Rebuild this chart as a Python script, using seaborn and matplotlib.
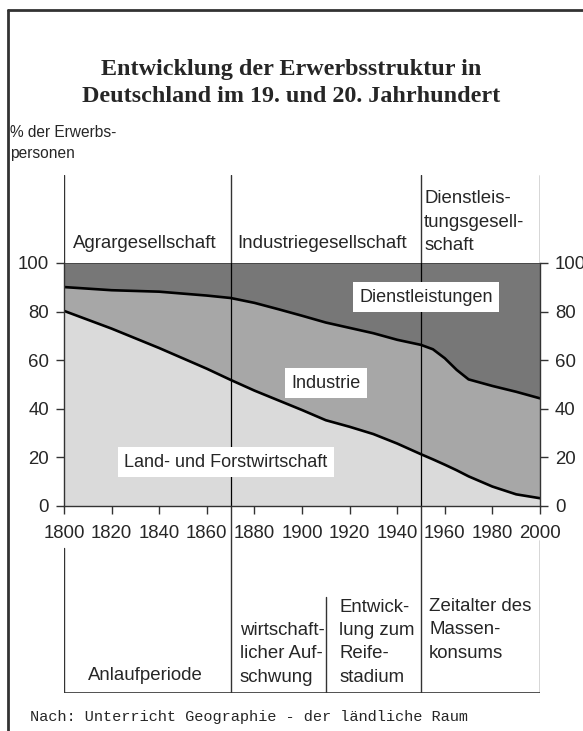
import numpy as np
import pandas as pd
import seaborn as sns
import matplotlib.pyplot as plt
from matplotlib.lines import Line2D

# values
years = [1800, 1820, 1840, 1860, 1870, 1880, 1890, 1900, 1910, 1920, 1930, 1940,
         1950, 1955, 1960, 1965, 1970, 1980, 1990, 2000]
agrar = [80.3, 73.0, 65.0, 56.5, 51.9, 47.5, 43.5, 39.5, 35.3, 32.6, 29.6, 25.7,
         21.3, 19.2, 17.0, 14.7, 12.2, 8.0, 4.8, 3.2]
agrar_ind = [90.1, 88.8, 88.2, 86.6, 85.6, 83.6, 81.0, 78.3, 75.5, 73.3, 71.1, 68.4,
             66.3, 64.5, 60.8, 56.0, 52.1, 49.4, 47.0, 44.3]
total = [100] * len(years)

sectors = ["Land- und Forstwirtschaft", "Industrie", "Dienstleistungen"]
sector_pos = [(1868, 18), (1910, 50.5), (1952, 86)]
societies = ["Agrargesellschaft", "Industriegesellschaft", "Dienstleis-\ntungsgesell-\nschaft"]
phases = ["Anlaufperiode", "wirtschaft-\nlicher Auf-\nschwung", "Entwick-\nlung zum\nReife-\nstadium",
          "Zeitalter des\nMassen-\nkonsums"]

df = pd.DataFrame({"Jahr": years, "agrar": agrar, "ind": agrar_ind, "total": total})

sns.set_style("white")
plt.rcParams["font.family"] = ["Liberation Sans", "DejaVu Sans"]

fig = plt.figure(figsize=(5.83, 7.31), dpi=100)
H = 731.0
def fy(px):
    return 1 - px / H

x0, x1 = 64 / 583, 540 / 583
ax = fig.add_axes([x0, fy(506), x1 - x0, (506 - 263) / H])
hdr = fig.add_axes([x0, fy(263), x1 - x0, (263 - 175) / H], sharex=ax)
bot = fig.add_axes([x0, fy(693), x1 - x0, (693 - 506) / H], sharex=ax)

light, mid, dark = "#dadada", "#a7a7a7", "#777777"
ax.fill_between(df["Jahr"], 0, df["agrar"], color=light, lw=0)
ax.fill_between(df["Jahr"], df["agrar"], df["ind"], color=mid, lw=0)
ax.fill_between(df["Jahr"], df["ind"], df["total"], color=dark, lw=0)
sns.lineplot(data=df, x="Jahr", y="agrar", ax=ax, color="black", lw=1.9)
sns.lineplot(data=df, x="Jahr", y="ind", ax=ax, color="black", lw=1.9)
ax.axhline(100, color="#333333", lw=1.2)
for yr in [1870, 1950]:
    ax.axvline(yr, color="black", lw=0.9)

ax.set_xlim(1800, 2000)
ax.set_ylim(0, 100)
ax.set_xlabel("")
ax.set_ylabel("")
ax.set_xticks(range(1800, 2001, 20))
ax.set_xticks(range(1800, 2001, 10), minor=True)
ax.set_yticks(range(0, 101, 20))
ax.set_yticks(range(0, 101, 10), minor=True)
ax.tick_params(axis="both", which="both", direction="out", length=5.8, width=1, color="#333333",
               labelsize=13.4)
ax.tick_params(axis="x", which="major", pad=8)
ax.tick_params(axis="y", left=True, right=True, labelleft=True, labelright=True, pad=5)
ax.tick_params(axis="x", bottom=True)
ax.spines["top"].set_visible(False)
for s in ["left", "right", "bottom"]:
    ax.spines[s].set_color("#333333")
    ax.spines[s].set_linewidth(1)

for name, (px, py) in zip(sectors, sector_pos):
    ax.text(px, py, name, ha="center", va="center", fontsize=13,
            bbox=dict(boxstyle="square,pad=0.35", fc="white", ec="none"))

# header with societies
hdr.set_ylim(0, 1)
hdr.axis("off")
for yr in [1800, 1870, 1950, 2000]:
    hdr.axvline(yr, color="#333333", lw=1)
hdr.text(1834, 0.22, societies[0], ha="center", va="center", fontsize=13.4)
hdr.text(1872.7, 0.22, societies[1], ha="left", va="center", fontsize=13.4)
hdr.text(1951.3, 0.10, societies[2], ha="left", va="bottom", fontsize=13.4, linespacing=1.5)

# bottom with growth phases
bot.set_ylim(0, 1)
bot.axis("off")
bot.axvline(1800, 0, (693 - 548) / 187, color="#333333", lw=1)
bot.axvline(1870, 0, 1, color="#333333", lw=1)
bot.axvline(1910, 0, (693 - 597) / 187, color="#333333", lw=1)
bot.axvline(1950, 0, 1, color="#333333", lw=1)
bot.axvline(2000, 0, (693 - 540) / 187, color="#333333", lw=1)
bot.axhline(0, 0, 1, color="#333333", lw=1.2)
bot.text(1834, (693 - 676) / 187, phases[0], ha="center", va="center", fontsize=13.4)
bot.text(1873.8, (693 - 686) / 187, phases[1], ha="left", va="bottom", fontsize=13.4, linespacing=1.5)
bot.text(1915.7, (693 - 686) / 187, phases[2], ha="left", va="bottom", fontsize=13.4, linespacing=1.5)
bot.text(1953.4, (693 - 662) / 187, phases[3], ha="left", va="bottom", fontsize=13.4, linespacing=1.5)

fig.text(0.5, fy(83), "Entwicklung der Erwerbsstruktur in\nDeutschland im 19. und 20. Jahrhundert",
         ha="center", va="center", fontsize=17.4, fontweight="bold", family="Liberation Serif",
         linespacing=1.38)
fig.text(10 / 583, fy(143), "% der Erwerbs-\npersonen", ha="left", va="center", fontsize=11.2,
         linespacing=1.55)
fig.text(30 / 583, fy(717), "Nach: Unterricht Geographie - der ländliche Raum", ha="left",
         va="center", fontsize=11, family="Liberation Mono")

# page frame
fig.add_artist(Line2D([8 / 583, 8 / 583], [0, fy(10)], color="#333333", lw=2))
fig.add_artist(Line2D([8 / 583, 1], [fy(10), fy(10)], color="#333333", lw=2))

fig.savefig("out.png", dpi=100)
